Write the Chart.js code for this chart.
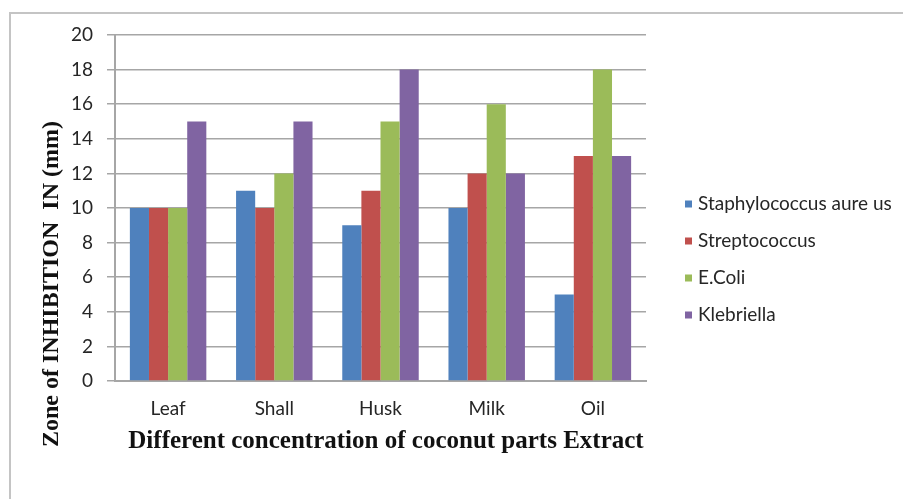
<!DOCTYPE html>
<html>
<head>
<meta charset="utf-8">
<script src="https://cdn.jsdelivr.net/npm/chart.js@4.4.1/dist/chart.umd.min.js"></script>
<style>
  html, body { margin: 0; padding: 0; background: #ffffff; }
  #wrap { position: relative; width: 903px; height: 499px; overflow: hidden; }
  #frame { position: absolute; left: 9px; top: 12px; width: 900px; height: 500px;
           border-left: 2px solid #c4c4c4; border-top: 2px solid #c4c4c4; box-sizing: border-box; }
  canvas { position: absolute; left: 0; top: 0; }
</style>
</head>
<body>
<div id="wrap">
  <div id="frame"></div>
  <canvas id="chart" width="903" height="499"></canvas>
</div>
<script>
// Coconut part extracts tested
const categories = ['Leaf', 'Shall', 'Husk', 'Milk', 'Oil'];

// Zone of inhibition (mm) per organism
const staphylococcusAureus = [10, 11, 9, 10, 5];
const streptococcus        = [10, 10, 11, 12, 13];
const eColi                = [10, 12, 15, 16, 18];
const klebriella           = [15, 15, 18, 12, 13];

const seriesNames = ['Staphylococcus aure us', 'Streptococcus', 'E.Coli', 'Klebriella'];
const seriesColors = ['#4F81BD', '#C0504D', '#9BBB59', '#8064A2'];

const yTicks = [0, 2, 4, 6, 8, 10, 12, 14, 16, 18, 20];

const yTitle = 'Zone of INHIBITION  IN (mm)';
const xTitle = 'Different concentration of coconut parts Extract';

const seriesValues = [staphylococcusAureus, streptococcus, eColi, klebriella];

// Axis titles and the side legend are painted after the chart
const decorations = {
  id: 'decorations',
  afterDraw(chart) {
    const ctx = chart.ctx;
    ctx.save();
    ctx.fillStyle = '#111111';
    ctx.font = 'bold 25px "Liberation Serif", serif';
    ctx.textAlign = 'center';
    ctx.textBaseline = 'middle';
    ctx.fillText(xTitle, 386, 442);

    ctx.translate(52, 284);
    ctx.rotate(-Math.PI / 2);
    ctx.font = 'bold 24px "Liberation Serif", serif';
    ctx.fillText(yTitle, 0, 0);
    ctx.restore();

    ctx.save();
    ctx.font = '19px Lato, sans-serif';
    ctx.textAlign = 'left';
    ctx.textBaseline = 'middle';
    chart.data.datasets.forEach((ds, i) => {
      const cy = 204 + i * 37;
      ctx.fillStyle = ds.backgroundColor;
      ctx.fillRect(685, cy - 3.5, 7, 7);
      ctx.fillStyle = '#262626';
      ctx.fillText(ds.label, 698, cy);
    });
    ctx.restore();
  }
};

new Chart(document.getElementById('chart'), {
  type: 'bar',
  data: {
    labels: categories,
    datasets: seriesValues.map((vals, i) => ({
      label: seriesNames[i],
      data: vals,
      backgroundColor: seriesColors[i],
      borderWidth: 0,
      categoryPercentage: 0.72,
      barPercentage: 1.0
    }))
  },
  options: {
    responsive: false,
    animation: false,
    layout: { padding: { left: 0, top: 35, right: 257, bottom: 0 } },
    plugins: {
      legend: { display: false },
      tooltip: { enabled: false },
      title: { display: false }
    },
    scales: {
      x: {
        grid: { display: false, drawTicks: false },
        border: { display: true, color: '#a6a6a6', width: 2 },
        ticks: {
          color: '#262626',
          font: { family: 'Lato, sans-serif', size: 19 },
          padding: 16
        },
        afterFit(scale) { scale.height = 118; }
      },
      y: {
        min: 0,
        max: 20,
        afterBuildTicks(scale) { scale.ticks = yTicks.map(v => ({ value: v })); },
        grid: { color: '#a6a6a6', lineWidth: 1.5, tickLength: 8, drawTicks: true },
        border: { display: true, color: '#a6a6a6', width: 2 },
        ticks: {
          color: '#262626',
          font: { family: 'Lato, sans-serif', size: 19 },
          padding: 14
        },
        afterFit(scale) { scale.width = 115; }
      }
    }
  },
  plugins: [decorations]
});
</script>
</body>
</html>
